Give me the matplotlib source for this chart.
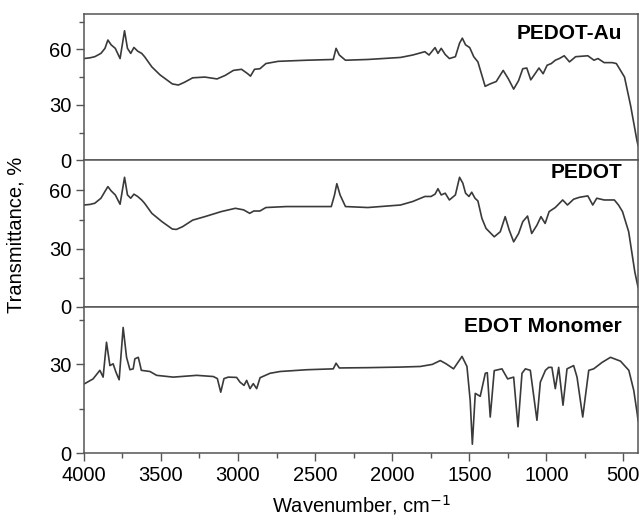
import matplotlib
matplotlib.use("Agg")
import matplotlib.pyplot as plt
from matplotlib.ticker import MultipleLocator, FixedLocator

plt.rcParams['font.family'] = ['Liberation Sans', 'DejaVu Sans']

# ---- data (wavenumber cm^-1, transmittance %) ----
au_wn = [4000, 3960, 3929, 3889, 3863, 3844, 3823, 3796, 3765, 3736, 3717, 3696, 3675, 3651, 3625, 3606,
         3559, 3506, 3426, 3387, 3347, 3294, 3215, 3136, 3083, 3030, 2977, 2937, 2919, 2893, 2858,
         2819, 2739, 2554, 2382, 2364, 2343, 2303, 2158, 1946, 1867, 1788, 1761, 1735, 1722, 1703,
         1682, 1656, 1629, 1590, 1563, 1545, 1524, 1497, 1471, 1444, 1418, 1397, 1365, 1325, 1280,
         1246, 1212, 1180, 1153, 1127, 1101, 1069, 1048, 1021, 995, 968, 942, 916, 884, 850, 810,
         731, 691, 665, 625, 572, 546, 519, 493, 453, 413, 405]
au_t = [55, 55.4, 56, 57.8, 60.5, 65, 62.4, 60.5, 55, 70, 60.5, 57.8, 61, 59, 57.8, 56,
        50.5, 46.2, 41.3, 40.7, 42.2, 44.6, 45, 44, 45.9, 48.6, 49.2, 46.8, 45.5, 49.2, 49.5,
        52.3, 53.5, 54.1, 54.5, 60.5, 56.9, 54.1, 54.5, 55.6, 56.9, 58.7, 56.9, 59.6, 60.9, 57.8,
        60.5, 57.2, 55, 56, 63.3, 66, 62.4, 60.9, 56, 53.2, 45.9, 40, 41.3, 42.6, 48.6,
        44, 38.5, 43.1, 49.5, 49.9, 43.5, 47.3, 49.9, 46.8, 51.4, 52.3, 54.1, 55, 56.5, 53.2, 56,
        56.5, 54.1, 55, 52.8, 52.8, 52.3, 48.6, 45, 29.4, 11, 8]

pe_wn = [4000, 3960, 3929, 3889, 3863, 3844, 3823, 3796, 3765, 3736, 3717, 3696, 3675, 3651, 3625, 3606,
         3559, 3493, 3426, 3400, 3360, 3294, 3215, 3109, 3017, 2964, 2924, 2898, 2858,
         2819, 2686, 2395, 2374, 2359, 2338, 2303, 2158, 1946, 1867, 1788, 1748, 1722, 1703,
         1682, 1656, 1629, 1590, 1563, 1542, 1524, 1502, 1484, 1463, 1444, 1418, 1391, 1338,
         1299, 1267, 1241, 1212, 1180, 1153, 1122, 1095, 1061, 1035, 1008, 982, 942, 894, 863,
         823, 784, 731, 699, 673, 625, 559, 532, 506, 466, 426, 405]
pe_t = [52.5, 52.8, 53.4, 56, 59.5, 62, 59.8, 57.7, 52.9, 66.8, 57.7, 56, 58.1, 56.9, 55.1, 53.4,
        48.2, 43.9, 40.1, 39.9, 41.3, 44.7, 46.5, 49.1, 50.8, 50, 48.2, 49.4, 49.4,
        51.2, 51.7, 51.7, 57.7, 63.5, 57.7, 51.7, 51.2, 52.5, 54.3, 56.9, 56.9, 58.1, 60.9,
        57.7, 58.6, 55.1, 57.7, 66.8, 63.8, 58.6, 56.9, 59.1, 56, 54.6, 45.6, 40.4, 36.1,
        38.7, 46.5, 39.6, 33.5, 37.8, 43.9, 46.8, 37.8, 42.1, 46.5, 43, 49.1, 51.2, 55.1, 52.5,
        55.5, 56.5, 57.2, 52.5, 56, 55.1, 55.1, 52.5, 49.1, 38.7, 17.9, 10]

ed_wn = [3994, 3940, 3896, 3875, 3853, 3831, 3810, 3792, 3771, 3745, 3723, 3701, 3680, 3669, 3647,
         3638, 3627, 3571, 3528, 3420, 3268, 3160, 3134, 3112, 3091, 3063, 3009, 2987, 2961, 2944,
         2922, 2901, 2879, 2857, 2792, 2727, 2554, 2382, 2364, 2343, 2158, 1946, 1818, 1740, 1688,
         1650, 1602, 1547, 1515, 1494, 1480, 1461, 1429, 1396, 1383, 1364, 1338, 1288, 1251, 1212,
         1184, 1158, 1136, 1104, 1061, 1039, 1006, 985, 964, 942, 920, 892, 866, 823, 801, 764,
         725, 693, 638, 584, 519, 465, 433, 411, 405]
ed_t = [23.5, 25.1, 28, 25.7, 37.5, 29.6, 30.2, 27.4, 24.8, 42.5, 32.4, 28.2, 28.5, 31.9, 32.4,
        30.5, 28, 27.6, 26.3, 25.7, 26.3, 25.9, 25.2, 20.6, 25.2, 25.7, 25.6, 24, 22.9, 24.6,
        21.8, 23.5, 21.8, 25.5, 27, 27.6, 28.2, 28.5, 30.4, 28.8, 28.9, 29.1, 29.3, 30, 31.3,
        30.2, 28.5, 32.7, 29.3, 17.8, 3, 20.2, 19.2, 27, 27.2, 12.2, 27.9, 28.5, 25.1, 25.7,
        8.9, 27, 28.5, 28, 11.1, 24, 28, 29, 29, 21.8, 29, 16.2, 28.5, 29.6, 25.7, 12.2,
        28, 28.5, 30.7, 32.4, 31.1, 28, 21.2, 13.5, 11]

labels = ['PEDOT-Au', 'PEDOT', 'EDOT Monomer']
ylims = [79, 75.5, 49.5]
label_y = [0.87, 0.915, 0.865]
x_ticks = [4000, 3500, 3000, 2500, 2000, 1500, 1000, 500]
x_minor = [3750, 3250, 2750, 2250, 1750, 1250, 750]
series = [(au_wn, au_t), (pe_wn, pe_t), (ed_wn, ed_t)]

fig = plt.figure(figsize=(6.4, 5.22), dpi=100)
gs = fig.add_gridspec(3, 1, left=0.131, right=0.997, top=0.973, bottom=0.132, hspace=0)
axes = [fig.add_subplot(gs[i, 0]) for i in range(3)]

spine_col = '#555555'
for i, ax in enumerate(axes):
    wn, t = series[i]
    ax.plot(wn, t, color='#3a3a3a', lw=1.2)
    ax.set_xlim(4000, 405)
    ax.set_ylim(0, ylims[i])
    ax.yaxis.set_major_locator(MultipleLocator(30))
    minors = [v for v in (15, 45, 75) if v < ylims[i] - 1]
    ax.yaxis.set_minor_locator(FixedLocator(minors))
    ax.tick_params(axis='y', which='major', direction='out', length=5.5, width=1,
                   color=spine_col, labelsize=14.5, pad=3.5)
    ax.tick_params(axis='y', which='minor', direction='out', length=3.3, width=1, color=spine_col)
    for s in ax.spines.values():
        s.set_color(spine_col)
        s.set_linewidth(1.1)
    ax.text(0.971, label_y[i], labels[i], transform=ax.transAxes, ha='right', va='center',
            fontsize=15, fontweight='bold')
    if i < 2:
        ax.tick_params(axis='x', which='both', bottom=False, labelbottom=False)
    else:
        ax.set_xticks(x_ticks)
        ax.xaxis.set_minor_locator(FixedLocator(x_minor))
        ax.tick_params(axis='x', which='major', direction='out', length=5.5, width=1,
                       color=spine_col, labelsize=14.5, pad=4)
        ax.tick_params(axis='x', which='minor', direction='out', length=3.3, width=1, color=spine_col)

fig.text(0.5645, 1 - 505 / 522, r'Wavenumber, cm$^{-1}$', ha='center', va='center', fontsize=14.5)
fig.text(0.025, 0.55, 'Transmittance, %', rotation=90, ha='center', va='center', fontsize=14.5)

fig.savefig('out.png', dpi=100)
